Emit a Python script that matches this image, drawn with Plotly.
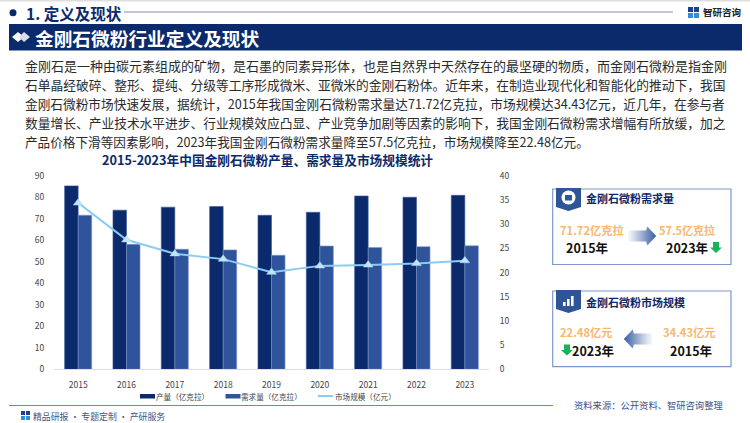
"""金刚石微粉行业定义及现状 slide rebuilt with Plotly."""
import plotly.graph_objects as go

W, H = 750, 423
CJK = 'Noto Sans CJK SC'
NAVY = '#0B2A6B'
BLUE = '#30549B'
SKY = '#8CCBF5'
ORANGE = '#F9B76E'
GREEN = '#17B35A'
EDGE = '#7E97CB'

years = ['2015', '2016', '2017', '2018', '2019', '2020', '2021', '2022', '2023']
output_vals = [85.4, 74.1, 75.5, 75.8, 71.7, 73.1, 80.7, 80.1, 81.0]
demand_vals = [71.72, 58.2, 55.9, 55.6, 53.1, 57.4, 56.7, 57.1, 57.5]
market_vals = [34.43, 26.8, 23.9, 22.8, 20.1, 21.4, 21.6, 21.9, 22.48]

body_lines = [
    '金刚石是一种由碳元素组成的矿物，是石墨的同素异形体，也是自然界中天然存在的最坚硬的物质，而金刚石微粉是指金刚',
    '石单晶经破碎、整形、提纯、分级等工序形成微米、亚微米的金刚石粉体。近年来，在制造业现代化和智能化的推动下，我国',
    '金刚石微粉市场快速发展，据统计，2015年我国金刚石微粉需求量达71.72亿克拉，市场规模达34.43亿元，近几年，在参与者',
    '数量增长、产业技术水平进步、行业规模效应凸显、产业竞争加剧等因素的影响下，我国金刚石微粉需求增幅有所放缓，加之',
    '产品价格下滑等因素影响，2023年我国金刚石微粉需求量降至57.5亿克拉，市场规模降至22.48亿元。',
]
body_y = [65.7, 84.7, 103.7, 122.7, 141.7]
body_size = [13.0, 12.74, 12.68, 12.74, 12.63]


def px(x):
    return x / W


def py(y):
    return 1 - y / H


shapes = []
notes = []


def rect(x0, y0, x1, y1, fill='rgba(0,0,0,0)', line=None, width=1, opacity=1):
    shapes.append(dict(type='rect', xref='paper', yref='paper', x0=px(x0), x1=px(x1),
                       y0=py(y1), y1=py(y0), fillcolor=fill, opacity=opacity,
                       line=dict(color=line, width=width) if line else dict(width=0)))


def hline(x0, x1, y, color, width=1):
    shapes.append(dict(type='line', xref='paper', yref='paper', x0=px(x0), x1=px(x1),
                       y0=py(y), y1=py(y), line=dict(color=color, width=width)))


def poly(points, fill, opacity=1):
    path = 'M' + ' L'.join(f'{px(x):.5f},{py(y):.5f}' for x, y in points) + ' Z'
    shapes.append(dict(type='path', xref='paper', yref='paper', path=path,
                       fillcolor=fill, opacity=opacity, line=dict(width=0)))


def text(x, y, s, size=12, color='#333333', anchor='left', bold=False, font=CJK):
    # annotations sit a little inside their anchor, pull left-aligned ones back
    if anchor == 'left':
        x -= 2.5
    notes.append(dict(xref='paper', yref='paper', x=px(x), y=py(y), text=f'<b>{s}</b>' if bold else s,
                      showarrow=False, xanchor=anchor, yanchor='middle',
                      font=dict(family=font, size=size, color=color)))


def fade_arrow(tail, tip, yc):
    # gradient arrow built from thin slices, pale at the tail
    steps = 28
    sign = 1 if tip > tail else -1
    span = abs(tip - tail)
    for i in range(steps):
        d0, d1 = span * i / steps, span * (i + 1) / steps
        head = span - 9
        half = 5.5 if d0 < head else 9.5 * (span - d0) / 9
        half2 = 5.5 if d1 <= head else 9.5 * (span - d1) / 9
        if d0 < head <= d1:
            half2 = 9.5
        poly([(tail + sign * d0, yc - half), (tail + sign * d1 + sign * 0.3, yc - half2),
              (tail + sign * d1 + sign * 0.3, yc + half2), (tail + sign * d0, yc + half)],
             '#3F62A5', 0.06 + 0.94 * (i / (steps - 1)) ** 1.3)


def down_arrow(xc, y0):
    poly([(xc - 3, y0), (xc + 3, y0), (xc + 3, y0 + 5.5), (xc + 6, y0 + 5.5), (xc, y0 + 11),
          (xc - 6, y0 + 5.5), (xc - 3, y0 + 5.5)], GREEN)


def badge(y0, y1):
    poly([(556, y0), (581, y0), (581, y1 - 4), (568.5, y1), (556, y1 - 4)], '#2F5597')


# page furniture
rect(0, 0, W, 1.5, '#DEDEDE')
shapes.append(dict(type='circle', xref='paper', yref='paper', x0=px(9.5), x1=px(16.5),
                   y0=py(16.2), y1=py(9.2), fillcolor=NAVY, line=dict(width=0)))
text(26, 13, '1. 定义及现状', 15.5, NAVY, bold=True)
hline(124, 673, 12, '#A9B7D3', 1.5)
rect(688, 7, 693, 12, '#1F3F8F')
rect(688, 13, 693, 18, '#2B8FDB')
rect(694, 7, 699, 12, '#1F3F8F')
rect(694, 13, 699, 18, '#2B8FDB')
text(703, 12, '智研咨询', 9.5, '#222222', bold=True)
rect(9, 24, 742, 50.5, NAVY)
poly([(12, 37), (18, 32), (24, 37), (18, 42)], '#FFFFFF')
poly([(19, 37), (24, 32), (30, 37), (24, 42)], '#D6DEEE')
text(35, 37, '金刚石微粉行业定义及现状', 18.7, '#FFFFFF', bold=True)

for s, y, size in zip(body_lines, body_y, body_size):
    text(25, y, s, size, '#2B2B2B')

text(267, 159.5, '2015-2023年中国金刚石微粉产量、需求量及市场规模统计', 12.7, NAVY, 'center', bold=True)

# legend
rect(140, 394, 155, 398.5, NAVY)
text(156, 396, '产量（亿克拉）', 7.6, '#444444')
rect(225.5, 394, 240.5, 398.5, BLUE)
text(241.5, 396, '需求量（亿克拉）', 7.6, '#444444')
hline(318, 333, 396, SKY, 2)
text(335, 396, '市场规模（亿元）', 7.6, '#444444')

# footer
hline(9, 553, 405.5, '#7086B5', 1)
rect(21, 411, 25, 415, '#1F3F8F')
rect(21, 416, 25, 420, '#2B8FDB')
rect(26, 411, 30, 415, '#1F3F8F')
rect(26, 416, 30, 420, '#2B8FDB')
text(33, 416, '精品研报 · 专题定制 · 产研服务', 8.9, '#3D5488')
text(574, 405, '资料来源：公开资料、智研咨询整理', 9.3, '#3D5488')

# demand panel
rect(552.7, 189, 731, 264.5, line=EDGE, width=1.2)
badge(188, 211)
shapes.append(dict(type='circle', xref='paper', yref='paper', x0=px(561.5), x1=px(575.5),
                   y0=py(204.5), y1=py(190.5), fillcolor='#FFFFFF', line=dict(width=0)))
rect(565, 195, 572, 200.5, '#2F5597')
text(586, 198, '金刚石微粉需求量', 11, NAVY, bold=True)
text(592, 230, '71.72亿克拉', 11.2, ORANGE, 'center', bold=True)
text(587, 247.5, '2015年', 12.5, '#111111', 'center', bold=True)
fade_arrow(628, 656, 236)
text(687, 230, '57.5亿克拉', 11, ORANGE, 'center', bold=True)
text(687, 247.5, '2023年', 12.5, '#111111', 'center', bold=True)
down_arrow(716, 242)

# market size panel
rect(552.7, 291, 731, 366.7, line=EDGE, width=1.2)
badge(290, 313)
for bx, btop in zip([563, 567, 571], [302, 299, 296]):
    rect(bx, btop, bx + 2.6, 306, '#FFFFFF')
text(586, 302, '金刚石微粉市场规模', 11, NAVY, bold=True)
text(586, 332, '22.48亿元', 11.2, ORANGE, 'center', bold=True)
text(593, 350, '2023年', 12.5, '#111111', 'center', bold=True)
down_arrow(567, 344.5)
fade_arrow(652, 624, 339)
text(689, 332, '34.43亿元', 11.2, ORANGE, 'center', bold=True)
text(691, 350, '2015年', 12.5, '#111111', 'center', bold=True)

fig = go.Figure()
fig.add_trace(go.Bar(name='产量（亿克拉）', x=years, y=output_vals, offsetgroup='a',
                     marker=dict(color=NAVY, line=dict(color='#3C5A99', width=0.6))))
fig.add_trace(go.Bar(name='需求量（亿克拉）', x=years, y=demand_vals, offsetgroup='b',
                     marker=dict(color=BLUE, line=dict(color='#7E97CB', width=0.6))))
fig.add_trace(go.Scatter(name='市场规模（亿元）', x=years, y=market_vals, yaxis='y2', mode='lines+markers',
                         line=dict(color=SKY, width=2),
                         marker=dict(symbol='triangle-up', size=8.5, color='#C3E4F8',
                                     line=dict(color='#A9D8F5', width=0.5))))

fig.update_layout(
    width=W, height=H,
    margin=dict(l=0, r=0, t=0, b=0, pad=0, autoexpand=False),
    paper_bgcolor='#FFFFFF',
    plot_bgcolor='rgba(0,0,0,0)',
    showlegend=False,
    barmode='group',
    bargap=0.44,
    bargroupgap=0,
    font=dict(family=CJK, color='#444444', size=9),
    xaxis=dict(domain=[px(54), px(489)], anchor='y', type='category', range=[-0.5, 8.5], showgrid=False,
               automargin=False, showline=True, linecolor='#DDDDDD', linewidth=1, ticks='outside',
               ticklen=7, tickcolor='rgba(0,0,0,0)', tickfont=dict(size=8.5, color='#444444')),
    yaxis=dict(domain=[py(369.3), py(176)], range=[0, 90], dtick=10, showgrid=False, zeroline=False,
               automargin=False, ticks='outside', ticklen=7, tickcolor='rgba(0,0,0,0)',
               tickfont=dict(size=8.5, color='#444444')),
    yaxis2=dict(domain=[py(369.3), py(176)], overlaying='y', side='right', anchor='x', range=[0, 40],
                dtick=5, showgrid=False, zeroline=False, automargin=False, ticks='outside', ticklen=8,
                tickcolor='rgba(0,0,0,0)', tickfont=dict(size=8.5, color='#444444')),
    shapes=shapes,
    annotations=notes,
)

# the page must start at the window corner
fig.write_html("out.html", post_script="document.body.style.margin='0';",
               config=dict(displayModeBar=False))
